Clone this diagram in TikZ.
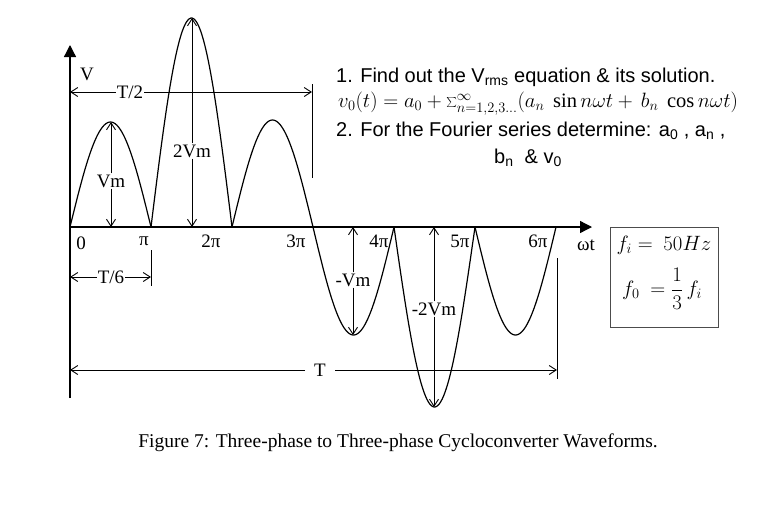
\documentclass[tikz,border=0pt]{standalone}
\usepackage{fontspec}
\setmainfont{Liberation Serif}
\newfontfamily\sff{Liberation Sans}
\usetikzlibrary{arrows.meta}
\begin{document}
\begin{tikzpicture}[x=1pt,y=-1pt,
  lab/.style={font=\fontsize{19}{21}\selectfont, inner sep=1pt},
  dim/.style={-{Straight Barb[length=7pt,width=9pt]}, line width=0.9pt},
  wave/.style={line width=1.2pt}]
\useasboundingbox (0,0) rectangle (757,515);
% axes
\coordinate (o) at (70,227);
\coordinate (xe) at (592,227);
\coordinate (yt) at (70,45);
\coordinate (yb) at (70,398);
\draw[line width=1.3pt,-{Triangle[length=12pt,width=12pt]}] (o) -- (xe);
\draw[line width=1.3pt,-{Triangle[length=12pt,width=12pt]}] (yb) -- (yt);
% waves
\draw[wave] plot[domain=0:180,samples=60,smooth] ({70+\x*81/180},{227-105*sin(\x)});
\draw[wave] plot[domain=0:180,samples=60,smooth] ({151+\x*81/180},{227-209*sin(\x)});
\draw[wave] plot[domain=0:180,samples=60,smooth] ({232+\x*81/180},{227-107*sin(\x)});
\draw[wave] plot[domain=0:180,samples=60,smooth] ({313+\x*81/180},{227+108*sin(\x)});
\draw[wave] plot[domain=0:180,samples=60,smooth] ({394+\x*81/180},{227+180*sin(\x)});
\draw[wave] plot[domain=0:180,samples=60,smooth] ({475+\x*81/180},{227+108*sin(\x)});
% tick labels
\node[lab] (l0) at (81,243) {0};
\node[lab] (l1) at (144,241) {π};
\node[lab] (l2) at (211,241) {2π};
\node[lab] (l3) at (296,241) {3π};
\node[lab] (l4) at (379,241) {4π};
\node[lab] (l5) at (460,241) {5π};
\node[lab] (l6) at (538,241) {6π};
\node[lab] (wt) at (586,245) {ωt};
\node[lab] (V) at (87,74) {V};
% T/2
\coordinate (t2a) at (70,92); \coordinate (t2b) at (312,92);
\node[lab,fill=white] (T2) at (130,92) {T/2};
\draw[dim] (T2.west) -- (t2a);
\draw[dim] (T2.east) -- (t2b);
\coordinate (t2u) at (312,84); \coordinate (t2d) at (312,178);
\draw[line width=0.9pt] (t2u) -- (t2d);
% T/6
\coordinate (t6a) at (70,277); \coordinate (t6b) at (151,277);
\node[lab] (T6) at (111,277) {T/6};
\draw[dim] (T6.west) -- (t6a);
\draw[dim] (T6.east) -- (t6b);
\coordinate (t6u) at (151,250); \coordinate (t6d) at (151,286);
\draw[line width=0.9pt] (t6u) -- (t6d);
% T
\coordinate (ta) at (70,370); \coordinate (tb) at (557,370);
\node[lab] (T) at (320,370) {T};
\draw[dim] ([xshift=-8pt]T.west) -- (ta);
\draw[dim] ([xshift=8pt]T.east) -- (tb);
\coordinate (tu) at (557,258); \coordinate (td) at (557,379);
\draw[line width=0.9pt] (tu) -- (td);
% amplitude arrows
\node[lab,fill=white] (vm) at (111,181) {Vm};
\coordinate (vmt) at (111,122); \coordinate (vmb) at (111,227);
\draw[dim] (vm.north) -- (vmt); \draw[dim] (vm.south) -- (vmb);
\node[lab,fill=white] (v2m) at (192,151) {2Vm};
\coordinate (v2t) at (192,18); \coordinate (v2b) at (192,227);
\draw[dim] (v2m.north) -- (v2t); \draw[dim] (v2m.south) -- (v2b);
\node[lab,fill=white] (nvm) at (353,280) {-Vm};
\coordinate (nvt) at (353,227); \coordinate (nvb) at (353,335);
\draw[dim] (nvm.north) -- (nvt); \draw[dim] (nvm.south) -- (nvb);
\node[lab,fill=white] (nv2) at (434,309) {-2Vm};
\coordinate (n2t) at (434,227); \coordinate (n2b) at (434,407);
\draw[dim] (nv2.north) -- (n2t); \draw[dim] (nv2.south) -- (n2b);
% text
\node[font=\sff\fontsize{20}{22}\selectfont, anchor=west, inner sep=0pt] (t1) at (336,77) {1. Find out the V\textsubscript{rms} equation \& its solution.};
\node[font=\fontsize{20.5}{23}\selectfont, anchor=west, inner sep=0pt] (t2) at (338,104) {$v_0(t)=a_0+\sum_{n=1,2,3...}^{\infty}(a_n\ \sin n\omega t+\,b_n\ \cos n\omega t)$};
\node[font=\sff\fontsize{20}{22}\selectfont, anchor=west, inner sep=0pt] (t3) at (336,131) {2. For the Fourier series determine: a\textsubscript{0} , a\textsubscript{n} ,};
\node[font=\sff\fontsize{20}{22}\selectfont] (t4) at (528,158) {b\textsubscript{n} \ \& v\textsubscript{0}};
% box
\node[draw=black!70, line width=0.9pt, minimum width=108pt, minimum height=100pt, anchor=north west] (box) at (610,227) {};
\node[font=\fontsize{20}{22}\selectfont] (fi) at (664,245) {$f_i =\ 50Hz$};
\node[font=\fontsize{20}{22}\selectfont] (fo) at (662,289) {$f_0\ =\displaystyle\frac{1}{3}\,f_i$};
% caption
\node[font=\fontsize{19.5}{22}\selectfont] (cap) at (398,443) {Figure 7: Three-phase to Three-phase Cycloconverter Waveforms.};
\end{tikzpicture}
\end{document}
